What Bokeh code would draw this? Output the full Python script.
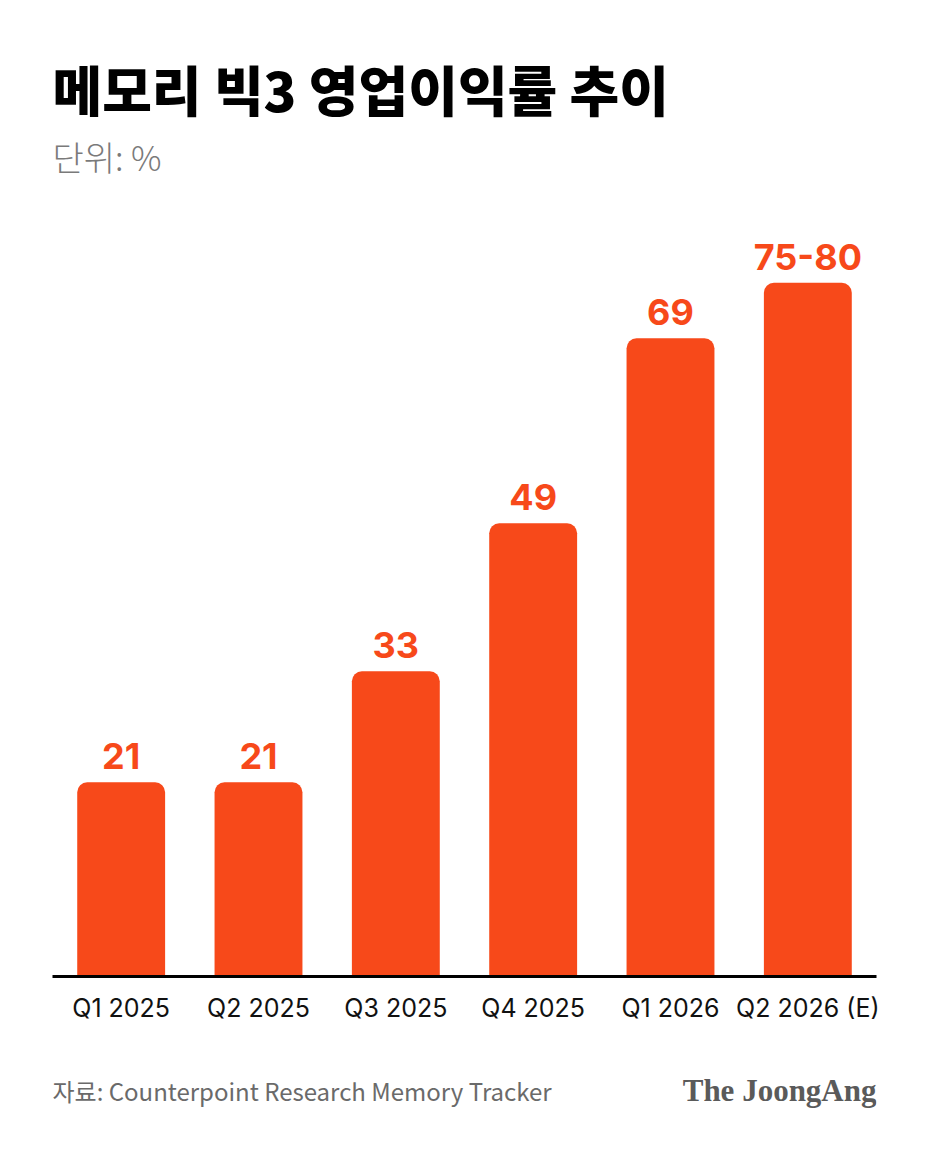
from bokeh.plotting import figure
from bokeh.layouts import column
from bokeh.models import ColumnDataSource, Range1d
from bokeh.core.properties import value
from bokeh.embed import file_html
from bokeh.resources import INLINE

# ---- data ----
quarters = ["Q1 2025", "Q2 2025", "Q3 2025", "Q4 2025", "Q1 2026", "Q2 2026 (E)"]
margins = [21, 21, 33, 49, 69, 75]
value_labels = ["21", "21", "33", "49", "69", "75-80"]

title_text = "메모리 빅3 영업이익률 추이"
unit_text = "단위: %"
source_text = "자료: Counterpoint Research Memory Tracker"
logo_text = "The JoongAng"

BAR = "#F7491A"
KFONT = "Noto Sans CJK KR"
W = 928
L, R = 52, 52


def blank(height):
    f = figure(width=W, height=height, x_range=Range1d(L, W - R), y_range=Range1d(0, height),
               output_backend="svg", toolbar_location=None,
               min_border_left=L, min_border_right=R,
               min_border_top=0, min_border_bottom=0,
               background_fill_color="white", border_fill_color="white")
    f.outline_line_color = None
    f.axis.visible = False
    f.grid.visible = False
    return f


# ---- header ----
HH = 200
head = blank(HH)
head.text(x=[L], y=[HH - 88], text=[title_text],
          text_font=value("'Noto Sans CJK KR Black', 'Noto Sans CJK KR'"),
          text_font_style="bold", text_font_size="54px", text_color="#000000",
          text_baseline="middle", text_align="left")
head.text(x=[L], y=[HH - 156], text=[unit_text],
          text_font=value("'Noto Sans CJK KR Light', 'Noto Sans CJK KR'"),
          text_font_size="34px", text_color="#7a7a7a",
          text_baseline="middle", text_align="left")

# ---- main chart ----
src = ColumnDataSource(dict(q=quarters, v=margins, lab=value_labels))
MH = 840
frame_h = 776
p = figure(width=W, height=MH, x_range=quarters, y_range=Range1d(0, frame_h / 9.25),
           output_backend="svg", toolbar_location=None,
           min_border_left=L, min_border_right=R,
           min_border_top=0, min_border_bottom=MH - frame_h,
           background_fill_color="white", border_fill_color="white")
p.outline_line_color = None
p.grid.visible = False
p.yaxis.visible = False
p.x_range.range_padding = 0

p.vbar(x="q", top="v", width=0.64, source=src, fill_color=BAR, line_color=None,
       border_radius=(10, 10, 0, 0))

p.text(x="q", y="v", text="lab", source=src, y_offset=-13,
       text_align="center", text_baseline="bottom",
       text_font=value("Inter"), text_font_style="bold",
       text_font_size="36px", text_color=BAR)

ax = p.xaxis[0]
ax.axis_line_color = "black"
ax.axis_line_width = 3
ax.major_tick_line_color = None
ax.minor_tick_line_color = None
ax.major_label_standoff = 10
ax.major_label_text_font = "Inter"
ax.major_label_text_font_size = "25px"
ax.major_label_text_color = "#111111"

# ---- footer ----
FH = 1152 - HH - MH
foot = blank(FH)
fy = FH - (1090 - HH - MH)
foot.text(x=[L], y=[fy], text=[source_text], text_font=value(KFONT),
          text_font_size="24px", text_color="#6a6a6a",
          text_baseline="middle", text_align="left")
foot.text(x=[W - R], y=[fy], text=[logo_text], text_font=value("Liberation Serif"),
          text_font_style="bold", text_font_size="31px", text_color="#5a5a5a",
          text_baseline="middle", text_align="right")

layout = column(head, p, foot, spacing=0)
open("out.html", "w").write(file_html(layout, INLINE))
